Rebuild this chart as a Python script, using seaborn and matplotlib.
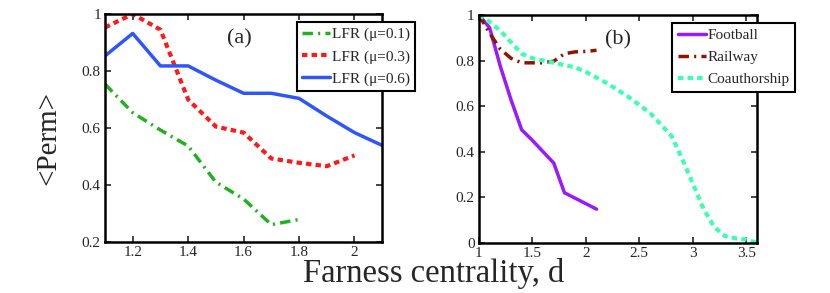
import matplotlib
matplotlib.use("Agg")
import matplotlib.pyplot as plt
import seaborn as sns
import pandas as pd

sns.set_style("ticks")
plt.rcParams['font.family'] = ['Liberation Serif', 'DejaVu Serif']
plt.rcParams['mathtext.fontset'] = 'stix'

# Panel (a) data
x_mu01 = [1.1, 1.2, 1.3, 1.4, 1.5, 1.6, 1.7, 1.8]
y_mu01 = [0.754, 0.654, 0.593, 0.537, 0.41, 0.351, 0.261, 0.279]
x_mu03 = [1.1, 1.2, 1.3, 1.4, 1.5, 1.6, 1.7, 1.8, 1.9, 2.0]
y_mu03 = [0.953, 1.0, 0.945, 0.70, 0.605, 0.584, 0.493, 0.478, 0.466, 0.504]
x_mu06 = [1.1, 1.2, 1.3, 1.4, 1.5, 1.6, 1.7, 1.8, 1.9, 2.0, 2.1]
y_mu06 = [0.853, 0.932, 0.818, 0.818, 0.768, 0.722, 0.722, 0.704, 0.642, 0.584, 0.539]

# Panel (b) data
x_football = [1.0, 1.1, 1.2, 1.3, 1.4, 1.5, 1.6, 1.7, 1.8, 2.1]
y_football = [1.0, 0.944, 0.775, 0.628, 0.496, 0.45, 0.40, 0.35, 0.22, 0.148]
x_railway = [1.0, 1.1, 1.2, 1.3, 1.4, 1.5, 1.6, 1.7, 1.8, 1.9, 2.0, 2.1]
y_railway = [1.0, 0.92, 0.85, 0.81, 0.79, 0.79, 0.79, 0.797, 0.83, 0.838, 0.84, 0.845]
x_coauth = [1.0, 1.1, 1.2, 1.3, 1.4, 1.5, 1.6, 1.7, 1.8, 1.9, 2.0, 2.2, 2.4, 2.6, 2.8, 2.9, 3.0, 3.1, 3.2, 3.3, 3.4, 3.5, 3.6]
y_coauth = [1.0, 0.97, 0.93, 0.88, 0.83, 0.81, 0.80, 0.79, 0.78, 0.77, 0.75, 0.70, 0.64, 0.57, 0.47, 0.37, 0.26, 0.15, 0.07, 0.03, 0.02, 0.015, 0.0]

labels_a = ["LFR (μ=0.1)", "LFR (μ=0.3)", "LFR (μ=0.6)"]
labels_b = ["Football", "Railway", "Coauthorship"]

fig = plt.figure(figsize=(8.3, 2.93), dpi=100)
ax1 = fig.add_axes([0.1265, 0.174, 0.334, 0.778])
ax2 = fig.add_axes([0.577, 0.171, 0.335, 0.778])

def style(ax):
    for s in ax.spines.values():
        s.set_linewidth(1.8)
        s.set_color('black')
    ax.tick_params(direction='in', top=True, right=True, length=4, width=1.2,
                   labelsize=11, pad=3)

leg_kw = dict(loc='upper right', fontsize=11, handlelength=1.85, handletextpad=0.1,
              borderpad=0.35, labelspacing=0.55, fancybox=False, framealpha=1,
              edgecolor='black', borderaxespad=0.0)

sns.lineplot(x=x_mu01, y=y_mu01, ax=ax1, color='#22b022', lw=2.5, linestyle=(0, (3, 1.5, 0.6, 1.5)), label=labels_a[0])
sns.lineplot(x=x_mu03, y=y_mu03, ax=ax1, color='#ff1a1a', lw=3, linestyle=(0, (1.3, 1.0)), label=labels_a[1])
sns.lineplot(x=x_mu06, y=y_mu06, ax=ax1, color='#2f55ff', lw=2.5, linestyle='-', label=labels_a[2])
ax1.set_xlim(1.1, 2.1)
ax1.set_ylim(0.2, 1.0)
ax1.set_xticks([1.2, 1.4, 1.6, 1.8, 2.0])
ax1.set_xticklabels(["1.2", "1.4", "1.6", "1.8", "2"])
ax1.set_yticks([0.2, 0.4, 0.6, 0.8, 1.0])
ax1.set_yticklabels(["0.2", "0.4", "0.6", "0.8", "1"])
style(ax1)
ax1.text(0.485, 0.87, "(a)", transform=ax1.transAxes, fontsize=16, ha='center')
leg1 = ax1.legend(bbox_to_anchor=(1.119, 0.965), **leg_kw)
leg1.get_frame().set_linewidth(1.5)

sns.lineplot(x=x_football, y=y_football, ax=ax2, color='#9a1aff', lw=2.5, linestyle='-', label=labels_b[0])
sns.lineplot(x=x_railway, y=y_railway, ax=ax2, color='#8b1500', lw=2.5, linestyle=(0, (3, 1.5, 0.6, 1.5)), label=labels_b[1])
sns.lineplot(x=x_coauth, y=y_coauth, ax=ax2, color='#3cffb0', lw=3, linestyle=(0, (1.3, 1.0)), label=labels_b[2])
ax2.set_xlim(1.0, 3.6)
ax2.set_ylim(0.0, 1.0)
ax2.set_xticks([1, 1.5, 2, 2.5, 3, 3.5])
ax2.set_xticklabels(["1", "1.5", "2", "2.5", "3", "3.5"])
ax2.set_yticks([0, 0.2, 0.4, 0.6, 0.8, 1.0])
ax2.set_yticklabels(["0", "0.2", "0.4", "0.6", "0.8", "1"])
style(ax2)
ax2.text(0.5, 0.87, "(b)", transform=ax2.transAxes, fontsize=16, ha='center')
leg2 = ax2.legend(bbox_to_anchor=(1.137, 0.965), **leg_kw)
leg2.get_frame().set_linewidth(1.5)

fig.text(0.523, 0.012, "Farness centrality, d", fontsize=23.5, ha='center', va='bottom')
fig.text(0.058, 0.53, "<Perm>", fontsize=21, rotation=90, ha='center', va='center')

fig.savefig("out.png", dpi=100)
